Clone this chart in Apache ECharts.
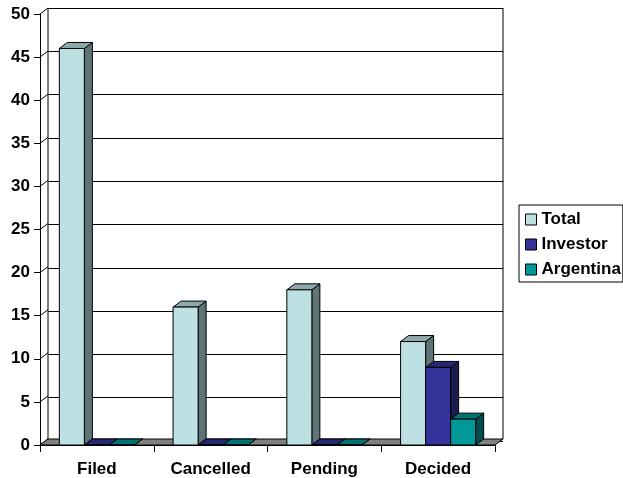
<!DOCTYPE html>
<html>
<head>
<meta charset="utf-8">
<script src="https://cdn.jsdelivr.net/npm/echarts@6/dist/echarts.min.js"></script>
<style>
html, body { margin: 0; padding: 0; background: #fff; }
#chart { width: 623px; height: 478px; }
</style>
</head>
<body>
<div id="chart"></div>
<script>
// Case counts per status
const categories = ['Filed', 'Cancelled', 'Pending', 'Decided'];
const seriesNames = ['Total', 'Investor', 'Argentina'];
const total = [46, 16, 18, 12];
const investor = [0, 0, 0, 9];
const argentina = [0, 0, 0, 3];
const yTicks = [0, 5, 10, 15, 20, 25, 30, 35, 40, 45, 50];

// Depth of the pseudo-3D box (pixels to the right and up)
const DX = 8, DY = -6;
const FONT = 'Liberation Sans, Arial, sans-serif';

const colors = [
  { front: '#BDE0E3', top: '#8FA9AB', side: '#5F7476' },
  { front: '#333399', top: '#262673', side: '#1B1B52' },
  { front: '#009999', top: '#007373', side: '#004D4D' }
];

function barRenderer(idx, c) {
  return function (params, api) {
    const cat = api.value(0), val = api.value(1);
    const base = api.coord([cat, 0]);
    const top = api.coord([cat, val]);
    const band = api.size([1, 0])[0];
    const w = band * 0.22;
    const xl = base[0] + (idx - 1.5) * w;
    const xr = xl + w;
    const yb = base[1], yt = top[1];
    const st = { stroke: '#000', lineWidth: 1, lineJoin: 'round' };
    return {
      type: 'group',
      children: [
        { type: 'polygon', shape: { points: [[xr, yt], [xr + DX, yt + DY], [xr + DX, yb + DY], [xr, yb]] },
          style: Object.assign({ fill: c.side }, st) },
        { type: 'polygon', shape: { points: [[xl, yt], [xl + DX, yt + DY], [xr + DX, yt + DY], [xr, yt]] },
          style: Object.assign({ fill: c.top }, st) },
        { type: 'rect', shape: { x: xl, y: yt, width: w, height: yb - yt },
          style: Object.assign({ fill: c.front }, st) }
      ]
    };
  };
}

// Floor, side-wall grid lines and back-wall edges
function frameRenderer(params, api) {
  const band = api.size([1, 0])[0];
  const n = categories.length;
  const x0 = api.coord([0, 0])[0] - band / 2;
  const x1 = api.coord([n - 1, 0])[0] + band / 2;
  const y0 = api.coord([0, 0])[1];
  const yMax = api.coord([0, yTicks[yTicks.length - 1]])[1];
  const line = { stroke: '#000', lineWidth: 1 };
  const children = [];
  yTicks.forEach(function (v) {
    const y = api.coord([0, v])[1];
    children.push({ type: 'line', shape: { x1: x0, y1: y, x2: x0 + DX, y2: y + DY }, style: line });
  });
  children.push({ type: 'line', shape: { x1: x0 + DX, y1: y0 + DY, x2: x0 + DX, y2: yMax + DY }, style: line });
  children.push({ type: 'line', shape: { x1: x1 + DX, y1: y0 + DY, x2: x1 + DX, y2: yMax + DY }, style: line });
  children.push({
    type: 'polygon',
    shape: { points: [[x0, y0], [x1, y0], [x1 + DX, y0 + DY], [x0 + DX, y0 + DY]] },
    style: { fill: '#808080', stroke: '#000', lineWidth: 1 }
  });
  return { type: 'group', children: children };
}

const seriesData = [total, investor, argentina];

const chart = echarts.init(document.getElementById('chart'), null, { renderer: 'canvas' });
const frontGrid = { left: 40, right: 128, top: 14, bottom: 31 };
const backGrid = {
  left: frontGrid.left + DX, right: frontGrid.right - DX,
  top: frontGrid.top + DY, bottom: frontGrid.bottom - DY
};

const option = {
  animation: false,
  backgroundColor: '#fff',
  grid: [frontGrid, backGrid],
  xAxis: [
    {
      type: 'category', gridIndex: 0, data: categories, boundaryGap: true,
      axisLine: { show: true, lineStyle: { color: '#000', width: 1 } },
      axisTick: { show: true, length: 7, inside: false, lineStyle: { color: '#000' } },
      axisLabel: { fontFamily: FONT, fontWeight: 'bold', fontSize: 17, color: '#000', margin: 16 },
      splitLine: { show: false }
    },
    {
      type: 'category', gridIndex: 1, data: categories, show: false
    }
  ],
  yAxis: [
    {
      type: 'value', gridIndex: 0, min: 0, max: 50, interval: 5,
      axisLine: { show: true, lineStyle: { color: '#000', width: 1 } },
      axisTick: { show: true, length: 6, inside: false, lineStyle: { color: '#000' } },
      axisLabel: { fontFamily: FONT, fontWeight: 'bold', fontSize: 17, color: '#000', margin: 10 },
      splitLine: { show: false }
    },
    {
      type: 'value', gridIndex: 1, min: 0, max: 50, interval: 5,
      axisLine: { show: false }, axisTick: { show: false }, axisLabel: { show: false },
      splitLine: { show: true, lineStyle: { color: '#000', width: 1 } }
    }
  ],
  legend: {
    orient: 'vertical', left: 519, top: 205,
    data: seriesNames,
    icon: 'rect', itemWidth: 11, itemHeight: 11, itemGap: 8,
    borderColor: '#000', borderWidth: 1, padding: [6, 2, 4, 6],
    backgroundColor: '#fff',
    textStyle: { fontFamily: FONT, fontWeight: 'bold', fontSize: 17, color: '#000' },
    itemStyle: { borderColor: '#000', borderWidth: 1 }
  },
  series: [
    {
      type: 'custom', name: '__frame', xAxisIndex: 0, yAxisIndex: 0, z: 1,
      silent: true, renderItem: frameRenderer, data: [[0, 0]]
    }
  ].concat(seriesNames.map(function (name, i) {
    return {
      type: 'custom', name: name, xAxisIndex: 0, yAxisIndex: 0, z: 2 + i,
      itemStyle: { color: colors[i].front },
      encode: { x: 0, y: 1 },
      renderItem: barRenderer(i, colors[i]),
      data: seriesData[i].map(function (v, k) { return [k, v]; })
    };
  }))
};

chart.setOption(option);
</script>
</body>
</html>
